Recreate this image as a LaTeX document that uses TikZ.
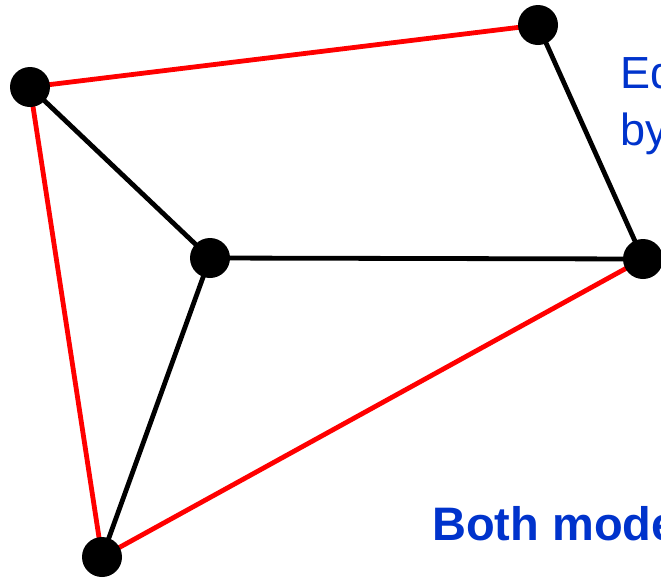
\documentclass[tikz,border=0pt]{standalone}
\usepackage{fontspec}
\setmainfont{Liberation Sans}
\definecolor{txtblue}{RGB}{0,51,204}
\begin{document}
\begin{tikzpicture}[x=1pt,y=-1pt,
  vtx/.style={circle,fill=black,inner sep=0pt,minimum size=40pt},
  redge/.style={red,line width=4.8pt},
  bedge/.style={black,line width=4.8pt},
  lbl/.style={text=txtblue,font=\fontsize{45}{57}\selectfont,anchor=base west,inner sep=0pt}]
\useasboundingbox (0,0) rectangle (661,579);
\coordinate (pA) at (30,87);
\coordinate (pB) at (538,25);
\coordinate (pC) at (210,258);
\coordinate (pD) at (643,259);
\coordinate (pE) at (102,557);
\draw[redge] (pA) -- (pB);
\draw[redge] (pA) -- (pE);
\draw[redge] (pE) -- (pD);
\draw[bedge] (pA) -- (pC);
\draw[bedge] (pC) -- (pD);
\draw[bedge] (pB) -- (pD);
\draw[bedge] (pC) -- (pE);
\node[vtx] (A) at (pA) {};
\node[vtx] (B) at (pB) {};
\node[vtx] (C) at (pC) {};
\node[vtx] (D) at (pD) {};
\node[vtx] (E) at (pE) {};
\node[lbl] (t1) at (620,88) {Ed};
\node[lbl] (t2) at (620,145) {by};
\node[lbl,font=\fontsize{47}{57}\selectfont\bfseries] (t3) at (432,540) {Both mode};
\end{tikzpicture}
\end{document}
